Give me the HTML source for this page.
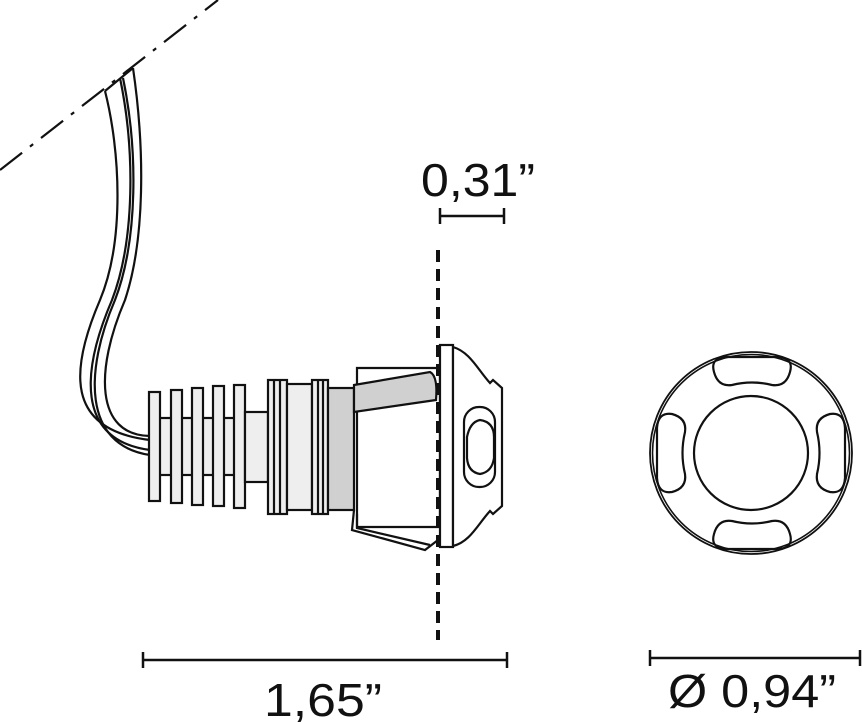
<!DOCTYPE html>
<html><head><style>html,body{margin:0;padding:0;background:#fff}svg{display:block}</style></head>
<body>
<svg width="862" height="722" viewBox="0 0 862 722" xmlns="http://www.w3.org/2000/svg" font-family="Liberation Sans, sans-serif">
<g fill="none" stroke="#111" stroke-width="2.2">
<line x1="0" y1="170" x2="218" y2="0" stroke-dasharray="28,10,4,10"/>
<path d="M105 91 C120 150,125 240,100 300 C70 370,65 430,150 440"/>
<path d="M120 78 C135 150,135 240,112 300 C82 370,75 440,150 450"/>
<path d="M123 78 C138 150,138 240,115 300 C85 370,82 445,150 455"/>
<path d="M133 68 C145 150,145 240,125 300 C95 370,95 435,150 436"/>
<line x1="105" y1="91" x2="133" y2="68"/>
</g>
<g stroke="#111" stroke-width="2.2">
<rect x="155" y="418" width="90" height="57" fill="#eee"/>
<rect x="149" y="392" width="11" height="109" fill="#eee"/>
<rect x="171" y="390" width="11" height="113" fill="#eee"/>
<rect x="192" y="388" width="11" height="117" fill="#eee"/>
<rect x="213" y="386" width="11" height="120" fill="#eee"/>
<rect x="234" y="385" width="11" height="123" fill="#eee"/>
<rect x="245" y="412" width="23" height="70" fill="#eee"/>
<rect x="268" y="380" width="19" height="134" fill="#eee"/>
<line x1="274" y1="380" x2="274" y2="514"/><line x1="280" y1="380" x2="280" y2="514"/>
<rect x="287" y="384" width="25" height="126" fill="#eee"/>
<rect x="312" y="380" width="16" height="134" fill="#eee"/>
<line x1="318" y1="380" x2="318" y2="514"/><line x1="323" y1="380" x2="323" y2="514"/>
<rect x="328" y="388" width="26" height="122" fill="#d0d0d0"/>
<path d="M357 368 L440 368 L440 527 L357 527 Z" fill="#fff"/>
<path d="M354 385 L430 372 Q438 376 436 400 L354 412 Z" fill="#d0d0d0"/>
<path d="M354 510 L352 530 L425 550 L438 540" fill="none"/>
<path d="M357 514 L357 528 L430 545" fill="none"/>
<rect x="440" y="345" width="13" height="202" fill="#fff"/>
<path d="M453 347 C470 352,478 370,490 383 L493 380 L502 388 L502 506 L493 514 L490 511 C478 524,470 542,453 546 Z" fill="#fff"/>
<rect x="464" y="407" width="31" height="80" rx="15" fill="#fff"/>
<path d="M467 437 Q470 422 480 420 Q494 422 494 437 L494 458 Q492 472 480 474 Q468 472 467 458 Z" fill="#fff"/>
</g>
<line x1="438" y1="250" x2="438" y2="640" stroke="#111" stroke-width="4" stroke-dasharray="12,7"/>
<g fill="none" stroke="#111" stroke-width="2.2">
<circle cx="751" cy="453" r="101" stroke-width="1.8"/>
<circle cx="751" cy="453" r="98.5" stroke-width="1.6"/>
<circle cx="751" cy="453" r="57"/>
<path d="M714 372 Q710 358 726 357 L778 357 Q794 358 790 372 Q786 387 772 385 Q752 380 732 385 Q718 387 714 372 Z"/>
<path d="M714 534 Q710 548 726 549 L778 549 Q794 548 790 534 Q786 519 772 521 Q752 526 732 521 Q718 519 714 534 Z"/>
<path d="M672 414 Q658 412 657 428 L657 478 Q658 494 672 492 Q687 488 685 474 Q680 453 685 432 Q687 418 672 414 Z"/>
<path d="M830 414 Q844 412 845 428 L845 478 Q844 494 830 492 Q815 488 817 474 Q822 453 817 432 Q815 418 830 414 Z"/>
</g>
<g stroke="#111" stroke-width="2.5">
<line x1="440" y1="216" x2="504" y2="216"/><line x1="440" y1="208" x2="440" y2="224"/><line x1="504" y1="208" x2="504" y2="224"/>
<line x1="143" y1="660" x2="507" y2="660"/><line x1="143" y1="652" x2="143" y2="668"/><line x1="507" y1="652" x2="507" y2="668"/>
<line x1="650" y1="658" x2="860" y2="658"/><line x1="650" y1="650" x2="650" y2="666"/><line x1="860" y1="650" x2="860" y2="666"/>
</g>
<g fill="#111" font-size="46">
<text x="421" y="196" textLength="114" lengthAdjust="spacingAndGlyphs">0,31”</text>
<text x="264" y="716" textLength="118" lengthAdjust="spacingAndGlyphs">1,65”</text>
<text x="668" y="707" textLength="168" lengthAdjust="spacingAndGlyphs">Ø 0,94”</text>
</g>
</svg>
</body></html>
